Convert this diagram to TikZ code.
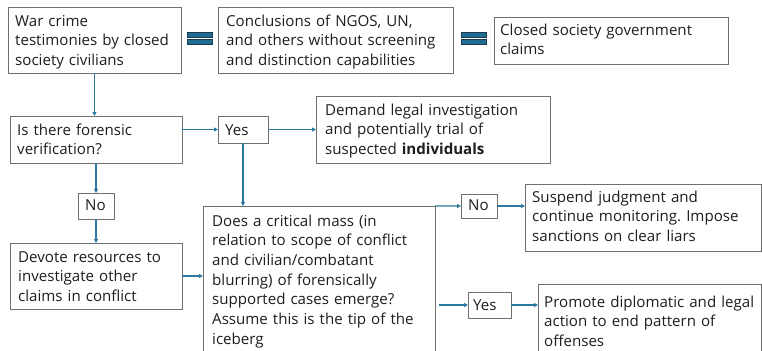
\documentclass[tikz,border=0pt]{standalone}
\usepackage{fontspec}
\setmainfont{Open Sans}
\usetikzlibrary{arrows.meta}
\definecolor{arrowc}{RGB}{45,120,160}
\definecolor{boxc}{RGB}{112,112,112}
\definecolor{eqfill}{RGB}{33,108,145}
\definecolor{eqdraw}{RGB}{25,60,80}
\definecolor{txtc}{RGB}{30,30,30}
\frenchspacing
\begin{document}
\begin{tikzpicture}[x=1bp,y=-1bp,
  box/.style={draw=boxc,line width=0.8bp,inner sep=0pt,outer sep=0pt},
  txt/.style={anchor=base west,inner sep=0pt,text width=260bp,align=left,font=\fontsize{15.1bp}{19.7bp}\selectfont\frenchspacing,text=txtc},
  conn/.style={draw=arrowc,line width=1.1bp,-{Triangle[length=4bp,width=4bp]}},
  eqbar/.style={fill=eqfill,draw=eqdraw,line width=0.6bp},
]
\useasboundingbox[fill=white] (0,0) rectangle (762,350);
\clip (0,0) rectangle (762,350);

% boxes
\node[box,minimum width=173bp,minimum height=66bp] (b1) at (94.5,40) {};
\node[box,minimum width=235bp,minimum height=66bp] (b2) at (335.5,40) {};
\node[box,minimum width=234bp,minimum height=47bp] (b3) at (611,40.5) {};
\node[box,minimum width=172bp,minimum height=47bp] (b4) at (96,139.5) {};
\node[box,minimum width=50bp,minimum height=27bp] (y1) at (243,129.5) {};
\node[box,minimum width=234bp,minimum height=67bp] (b6) at (433,129.5) {};
\node[box,minimum width=36bp,minimum height=26bp] (n1) at (96,206) {};
\node[box,minimum width=172bp,minimum height=66bp] (b8) at (96,276) {};
\node[box,minimum width=232bp,minimum height=164bp] (b9) at (319,288) {};
\node[box,minimum width=36bp,minimum height=24bp] (n2) at (479,206) {};
\node[box,minimum width=236bp,minimum height=67bp] (b11) at (643,217.5) {};
\node[box,minimum width=43bp,minimum height=26bp] (y2) at (489.5,305) {};
\node[box,minimum width=223bp,minimum height=136bp] (b13) at (649.5,352) {};

% texts
\node[txt] (t1) at (15,26) {War crime\\testimonies by closed\\society civilians};
\node[txt] (t2) at (226,26) {Conclusions of NGOS, UN,\\and others without screening\\and distinction capabilities};
\node[txt] (t3) at (500,35) {Closed society government\\claims};
\node[txt] (t4) at (17,135) {Is there forensic\\verification?};
\node[txt] (t5) at (225,135) {Yes};
\node[txt] (t6) at (325,115) {Demand legal investigation\\and potentially trial of\\suspected \textbf{individuals}};
\node[txt] (t7) at (85,210) {No};
\node[txt] (t8) at (18,262) {Devote resources to\\investigate other\\claims in conflict};
\node[txt] (t9) at (212,226) {Does a critical mass (in\\relation to scope of conflict\\and civilian/combatant\\blurring) of forensically\\supported cases emerge?\\Assume this is the tip of the\\iceberg};
\node[txt] (t10) at (468,210) {No};
\node[txt] (t11) at (532,202) {Suspend judgment and\\continue monitoring. Impose\\sanctions on clear liars};
\node[txt] (t12) at (473,310) {Yes};
\node[txt] (t13) at (544,307) {Promote diplomatic and legal\\action to end pattern of\\offenses};

% equals signs
\draw[eqbar] (187,32) rectangle (212,37);
\draw[eqbar] (187,39) rectangle (212,44);
\draw[eqbar] (461,32) rectangle (486,37);
\draw[eqbar] (461,39) rectangle (486,44);

% connectors
\coordinate (ys) at (439,305);
\draw[conn] (b1.south) -- (b1.south |- b4.north);
\draw[conn] (y1.west -| b4.east) -- (y1.west);
\draw[conn] (y1.east) -- (y1.east -| b6.west);
\draw[conn] (y1.south) -- (y1.south |- b9.north);
\draw[conn] (b4.south) -- (n1.north);
\draw[conn] (n1.south) -- (b8.north);
\draw[conn] (b8.east) -- (b8.east -| b9.west);
\draw[conn] (b9.north east) -- (n2.west);
\draw[conn] (ys) -- (y2.west);
\draw[conn] (n2.east) -- (n2.east -| b11.west);
\draw[conn] (y2.east) -- (y2.east -| b13.west);
\end{tikzpicture}
\end{document}
